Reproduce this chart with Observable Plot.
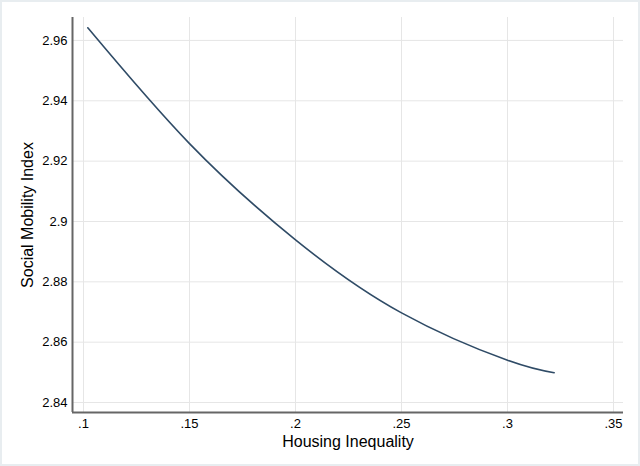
<!DOCTYPE html>
<html>
<head>
<meta charset="utf-8">
<script src="https://cdn.jsdelivr.net/npm/d3@7"></script>
<script src="https://cdn.jsdelivr.net/npm/@observablehq/plot@0.6"></script>
<style>
  html, body { margin: 0; padding: 0; background: #fff; }
  #wrap { position: relative; width: 640px; height: 466px; overflow: hidden; }
  #frame { position: absolute; left: 0; top: 0; right: 0; bottom: 0; border: 2px solid #e8edf0; pointer-events: none; }
  svg { display: block; }
</style>
</head>
<body>
<div id="wrap"><div id="frame"></div></div>
<script>
const inequality = [0.102, 0.15, 0.2, 0.25, 0.3, 0.322];
const mobility   = [2.9642, 2.9258, 2.8939, 2.8697, 2.854, 2.8499];
const xTicks = [0.1, 0.15, 0.2, 0.25, 0.3, 0.35];
const xTickLabels = [".1", ".15", ".2", ".25", ".3", ".35"];
const yTicks = [2.84, 2.86, 2.88, 2.9, 2.92, 2.94, 2.96];
const yTickLabels = ["2.84", "2.86", "2.88", "2.9", "2.92", "2.94", "2.96"];

const data = inequality.map((x, i) => ({x, y: mobility[i]}));
const font = "Arial, 'Liberation Sans', sans-serif";

const chart = Plot.plot({
  width: 640,
  height: 466,
  marginLeft: 72,
  marginRight: 17,
  marginTop: 17,
  marginBottom: 54,
  style: {fontFamily: font, fontSize: "13px", color: "#000", background: "#fff"},
  x: {domain: [0.0948, 0.3547]},
  y: {domain: [2.8367, 2.9676]},
  marks: [
    Plot.gridX(xTicks, {stroke: "#e6e6e6", strokeOpacity: 1, strokeWidth: 1}),
    Plot.gridY(yTicks, {stroke: "#e6e6e6", strokeOpacity: 1, strokeWidth: 1}),
    Plot.axisX(xTicks, {
      tickSize: 0, tickPadding: 6, fontSize: 13,
      tickFormat: (d) => xTickLabels[xTicks.indexOf(d)],
      label: "Housing Inequality", labelAnchor: "center", labelArrow: "none", labelOffset: 34
    }),
    Plot.axisY(yTicks, {
      tickSize: 0, tickPadding: 5, fontSize: 13,
      tickFormat: (d) => yTickLabels[yTicks.indexOf(d)],
      label: "Social Mobility Index", labelAnchor: "center", labelArrow: "none", labelOffset: 51
    }),
    Plot.ruleX([0.0948], {stroke: "#666", strokeWidth: 2}),
    Plot.ruleY([2.8367], {stroke: "#666", strokeWidth: 2}),
    Plot.line(data, {x: "x", y: "y", curve: "natural", stroke: "#2f4b66", strokeWidth: 1.6})
  ]
});
chart.querySelectorAll("g[aria-label='x-axis label'] text, g[aria-label='y-axis label'] text").forEach(t => t.setAttribute("font-size", "16px"));
document.getElementById("wrap").insertBefore(chart, document.getElementById("frame"));
</script>
</body>
</html>
